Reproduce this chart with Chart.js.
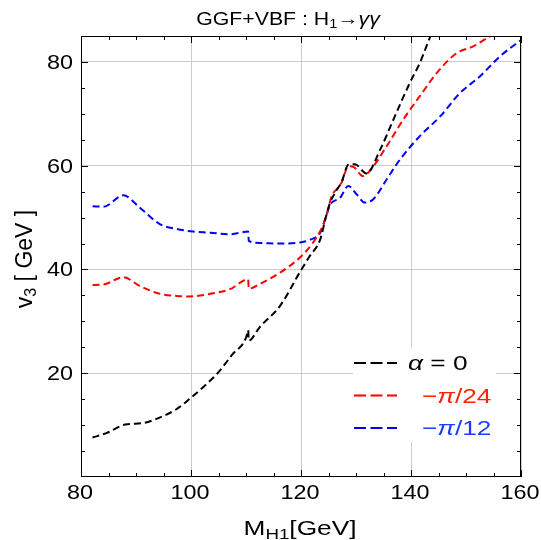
<!DOCTYPE html>
<html>
<head>
<meta charset="utf-8">
<script src="https://cdn.jsdelivr.net/npm/chart.js@4.4.1/dist/chart.umd.min.js"></script>
<style>
  html, body { margin: 0; padding: 0; background: #fff; }
  canvas { display: block; }
</style>
</head>
<body>
<canvas id="chart1" width="541" height="540"></canvas>
<script>
// ----------------------- DATA -----------------------
const xTicks = [80, 100, 120, 140, 160];
const yTicks = [20, 40, 60, 80];

const mh1Alpha0 = [82.1, 84.7, 88.0, 91.3, 94.4, 97.4, 99.8, 102.2, 105.0, 107.5, 110.0, 110.4, 110.5, 112.5, 116.2, 119.8, 121.6, 123.5, 124.5, 125.3, 126.2, 127.4, 128.6, 129.8, 131.9, 134.4, 136.8, 139.8, 141.6, 143.8, 145.0];
const v3Alpha0 = [7.6, 8.5, 10.1, 10.4, 11.5, 13.1, 15.1, 17.3, 20.2, 23.6, 26.8, 28.3, 26.3, 28.9, 33.0, 39.5, 42.6, 45.8, 50.0, 52.9, 54.8, 56.9, 60.2, 60.3, 58.5, 63.1, 68.9, 76.0, 79.8, 85.6, 88.0];

const mh1Pi24 = [82.1, 84.1, 87.7, 90.7, 94.4, 97.4, 99.8, 103.5, 107.1, 110.4, 110.5, 112.5, 116.2, 119.8, 122.2, 123.7, 124.6, 125.6, 126.6, 127.4, 128.6, 129.5, 131.3, 132.5, 135.6, 138.6, 141.6, 144.7, 148.3, 151.3, 154.9, 156.0];
const v3Pi24 = [37.0, 37.1, 38.5, 36.8, 35.3, 34.9, 34.8, 35.3, 36.2, 38.1, 36.3, 37.2, 39.4, 42.3, 45.2, 47.8, 50.3, 54.2, 55.6, 56.8, 59.9, 59.8, 58.0, 59.0, 63.8, 68.9, 73.4, 77.9, 81.7, 83.0, 85.2, 85.6];

const mh1Pi12 = [82.1, 84.1, 87.7, 90.7, 94.4, 97.4, 100.4, 103.5, 107.1, 110.4, 110.5, 112.5, 116.2, 119.8, 121.6, 123.5, 124.4, 125.3, 127.1, 128.6, 130.1, 131.6, 133.1, 135.6, 138.0, 141.6, 145.3, 148.9, 152.5, 156.2, 160.1];
const v3Pi12 = [52.2, 52.1, 54.3, 51.9, 48.7, 47.8, 47.3, 47.1, 46.8, 47.3, 45.5, 45.1, 45.0, 45.2, 45.7, 47.1, 49.7, 52.5, 53.8, 56.1, 54.5, 52.9, 53.5, 57.4, 61.2, 65.7, 69.5, 74.0, 77.2, 81.1, 84.3];

// ----------------------- UTIL -----------------------
const FONT = '"Liberation Sans", Arial, Helvetica, sans-serif';

function toPoints(xs, ys) {
  return xs.map((x, i) => ({ x: x, y: ys[i] }));
}

// draw text made of pieces {t, size, dy, style, color}, stretched by sx
function drawRich(ctx, parts, x, y, align, sx) {
  sx = sx || 1;
  let total = 0;
  parts.forEach((p) => {
    ctx.font = (p.style || "") + " " + p.size + "px " + FONT;
    p.w = ctx.measureText(p.t).width;
    total += p.w;
  });
  let start = 0;
  if (align === "center") start = -total / 2;
  if (align === "right") start = -total;
  ctx.save();
  ctx.translate(x, y);
  ctx.scale(sx, 1);
  let cx = start;
  parts.forEach((p) => {
    ctx.font = (p.style || "") + " " + p.size + "px " + FONT;
    ctx.fillStyle = p.color || "#000";
    ctx.fillText(p.t, cx, p.dy || 0);
    cx += p.w;
  });
  ctx.restore();
}

// frame, inward ticks, tick labels, title, axis titles, legend
const decorations = {
  id: "decorations",
  afterDraw(chart) {
    const { ctx, chartArea: { top, right, bottom, left }, scales: { x, y } } = chart;
    ctx.save();
    ctx.strokeStyle = "#000";
    ctx.lineWidth = 1;
    ctx.setLineDash([]);
    ctx.strokeRect(left + 0.5, top + 0.5, right - left - 1, bottom - top - 1);

    ctx.beginPath();
    for (let v = 80; v <= 160; v += 5) {
      const px = Math.round(x.getPixelForValue(v)) + 0.5;
      const len = v % 20 === 0 ? 7 : 4;
      ctx.moveTo(px, bottom); ctx.lineTo(px, bottom - len);
      ctx.moveTo(px, top); ctx.lineTo(px, top + len);
    }
    for (let v = 5; v <= 85; v += 5) {
      const py = Math.round(y.getPixelForValue(v)) + 0.5;
      const len = v % 20 === 0 ? 7 : 4;
      ctx.moveTo(left, py); ctx.lineTo(left + len, py);
      ctx.moveTo(right, py); ctx.lineTo(right - len, py);
    }
    ctx.stroke();

    ctx.textBaseline = "alphabetic";
    // tick labels
    xTicks.forEach((v) => {
      drawRich(ctx, [{ t: String(v), size: 20 }], x.getPixelForValue(v) - 1, 499, "center", 1.17);
    });
    yTicks.forEach((v) => {
      drawRich(ctx, [{ t: String(v), size: 20 }], 73, y.getPixelForValue(v) + 7, "right", 1.17);
    });

    // title
    drawRich(ctx, [
      { t: "GGF+VBF : H", size: 19 },
      { t: "1", size: 13, dy: 3 },
      { t: "\u2192", size: 19 },
      { t: "\u03b3\u03b3", size: 19, style: "italic" },
    ], 288, 25, "center", 1.12);

    // x title
    drawRich(ctx, [
      { t: "M", size: 21 },
      { t: "H1", size: 15, dy: 4 },
      { t: "[GeV]", size: 21 },
    ], 300, 535, "center", 1.25);

    // y title
    ctx.save();
    ctx.translate(32, 259);
    ctx.rotate(-Math.PI / 2);
    drawRich(ctx, [
      { t: "v", size: 23 },
      { t: "3", size: 16, dy: 4 },
      { t: " [ GeV ]", size: 23 },
    ], 0, 0, "center");
    ctx.restore();

    // legend
    ctx.fillStyle = "#fff";
    ctx.fillRect(353, 348, 143, 94);
    const rows = [
      { c: "#000000", parts: [{ t: "\u03b1", size: 21, style: "italic" }, { t: " = 0", size: 21 }], tx: 408 },
      { c: "#ff0000", tc: "#ff2200", parts: [{ t: "\u2212", size: 21 }, { t: "\u03c0", size: 21, style: "italic" }, { t: "/24", size: 21 }], tx: 422 },
      { c: "#0000ff", tc: "#1a3cff", parts: [{ t: "\u2212", size: 21 }, { t: "\u03c0", size: 21, style: "italic" }, { t: "/12", size: 21 }], tx: 422 },
    ];
    rows.forEach((r, i) => {
      const ly = 363 + i * 32.5;
      ctx.strokeStyle = r.c;
      ctx.lineWidth = 2;
      ctx.setLineDash([12, 4.5]);
      ctx.beginPath();
      ctx.moveTo(354, ly); ctx.lineTo(397, ly);
      ctx.stroke();
      r.parts.forEach((p) => (p.color = r.tc || r.c));
      drawRich(ctx, r.parts, r.tx, ly + 7, "left", 1.25);
    });
    ctx.restore();
  },
};

// ----------------------- CHART -----------------------
const ctx = document.getElementById("chart1");

function ds(label, xs, ys, color) {
  return {
    label: label,
    data: toPoints(xs, ys),
    borderColor: color,
    borderWidth: 2,
    borderDash: [7, 4],
    pointRadius: 0,
    showLine: true,
    fill: false,
    cubicInterpolationMode: "monotone",
  };
}

new Chart(ctx, {
  type: "scatter",
  data: {
    datasets: [
      ds("\u03b1 = 0", mh1Alpha0, v3Alpha0, "#000000"),
      ds("\u2212\u03c0/24", mh1Pi24, v3Pi24, "#ff0000"),
      ds("\u2212\u03c0/12", mh1Pi12, v3Pi12, "#0000ff"),
    ],
  },
  options: {
    responsive: false,
    animation: false,
    devicePixelRatio: 1,
    layout: { padding: { top: 36, right: 20, left: 0, bottom: 0 } },
    plugins: { legend: { display: false }, tooltip: { enabled: false } },
    scales: {
      x: {
        type: "linear",
        min: 80,
        max: 160,
        afterFit(s) { s.height = 63; },
        afterBuildTicks(s) { s.ticks = xTicks.map((v) => ({ value: v })); },
        grid: { color: "#cccccc", lineWidth: 1, drawTicks: false },
        border: { display: false },
        ticks: { display: false },
      },
      y: {
        type: "linear",
        min: 0,
        max: 85,
        afterFit(s) { s.width = 81; },
        afterBuildTicks(s) { s.ticks = yTicks.map((v) => ({ value: v })); },
        grid: { color: "#cccccc", lineWidth: 1, drawTicks: false },
        border: { display: false },
        ticks: { display: false },
      },
    },
  },
  plugins: [decorations],
});
</script>
</body>
</html>
